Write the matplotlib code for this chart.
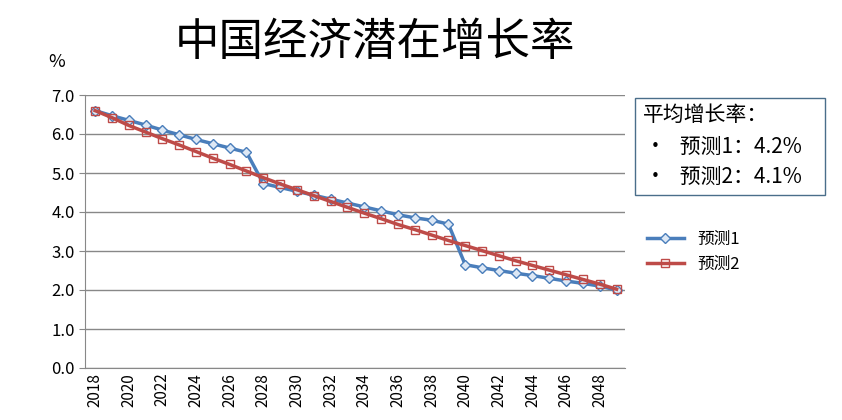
import matplotlib
matplotlib.use("Agg")
import matplotlib.pyplot as plt

plt.rcParams['font.family'] = ['Noto Sans CJK SC', 'DejaVu Sans']

years = list(range(2018, 2050))
pred1 = [6.6, 6.47, 6.35, 6.23, 6.1, 5.98, 5.86, 5.75, 5.64, 5.53,
         4.73, 4.63, 4.53, 4.43, 4.33, 4.23, 4.13, 4.03, 3.93, 3.85, 3.79, 3.69,
         2.65, 2.57, 2.5, 2.43, 2.37, 2.3, 2.23, 2.17, 2.1, 2.0]
pred2 = [6.6, 6.42, 6.22, 6.05, 5.88, 5.72, 5.55, 5.38, 5.22, 5.05, 4.88,
         4.72, 4.57, 4.42, 4.27, 4.12, 3.97, 3.83, 3.68, 3.55, 3.41, 3.27,
         3.14, 3.01, 2.88, 2.75, 2.63, 2.51, 2.39, 2.27, 2.15, 2.02]
xticks = list(range(2018, 2050, 2))

fig = plt.figure(figsize=(8.42, 4.2), dpi=100)
ax = fig.add_axes([85/842, 1-368/420, 540/842, 273/420])
ax.plot(years, pred1, color='#4A7EBB', lw=2.5, marker='D', ms=5,
        mfc='#dde8f5', mec='#4A7EBB', mew=1, label='预测1')
ax.plot(years, pred2, color='#BE4B48', lw=2.5, marker='s', ms=6,
        mfc='none', mec='#BE4B48', mew=1, label='预测2')
ax.set_ylim(0, 7)
ax.set_xlim(2017.4, 2049.5)
ax.set_yticks([i for i in range(8)])
ax.set_yticklabels([f"{i:.1f}" for i in range(8)], fontsize=12)
ax.set_xticks(xticks)
ax.set_xticklabels([str(y) for y in xticks], rotation=90, fontsize=11)
ax.grid(axis='y', color='#888888', lw=1)
ax.set_axisbelow(True)
for s in ['top', 'right']:
    ax.spines[s].set_visible(False)
ax.spines['left'].set_color('#888888')
ax.spines['bottom'].set_color('#888888')
ax.tick_params(axis='x', length=0)
ax.tick_params(axis='y', length=4, color='#888888')

fig.text(375/842, 1-42/420, '中国经济潜在增长率', fontsize=32, ha='center', va='center')
fig.text(57/842, 1-62/420, '%', fontsize=13, ha='center', va='center')

fig.legend(loc='center left', bbox_to_anchor=(632/842, 1-252/420), frameon=False,
           fontsize=12, handlelength=2.2)

box = plt.Rectangle((635/842, 1-195/420), 190/842, 97/420, transform=fig.transFigure,
                    fill=False, ec='#4A6E8A', lw=1)
fig.patches.append(box)
fig.text(643/842, 1-115/420, '平均增长率：', fontsize=15, va='center')
fig.text(645/842, 1-147/420, '•   预测1：4.2%', fontsize=15, va='center')
fig.text(645/842, 1-177/420, '•   预测2：4.1%', fontsize=15, va='center')

fig.savefig('out.png', dpi=100)
